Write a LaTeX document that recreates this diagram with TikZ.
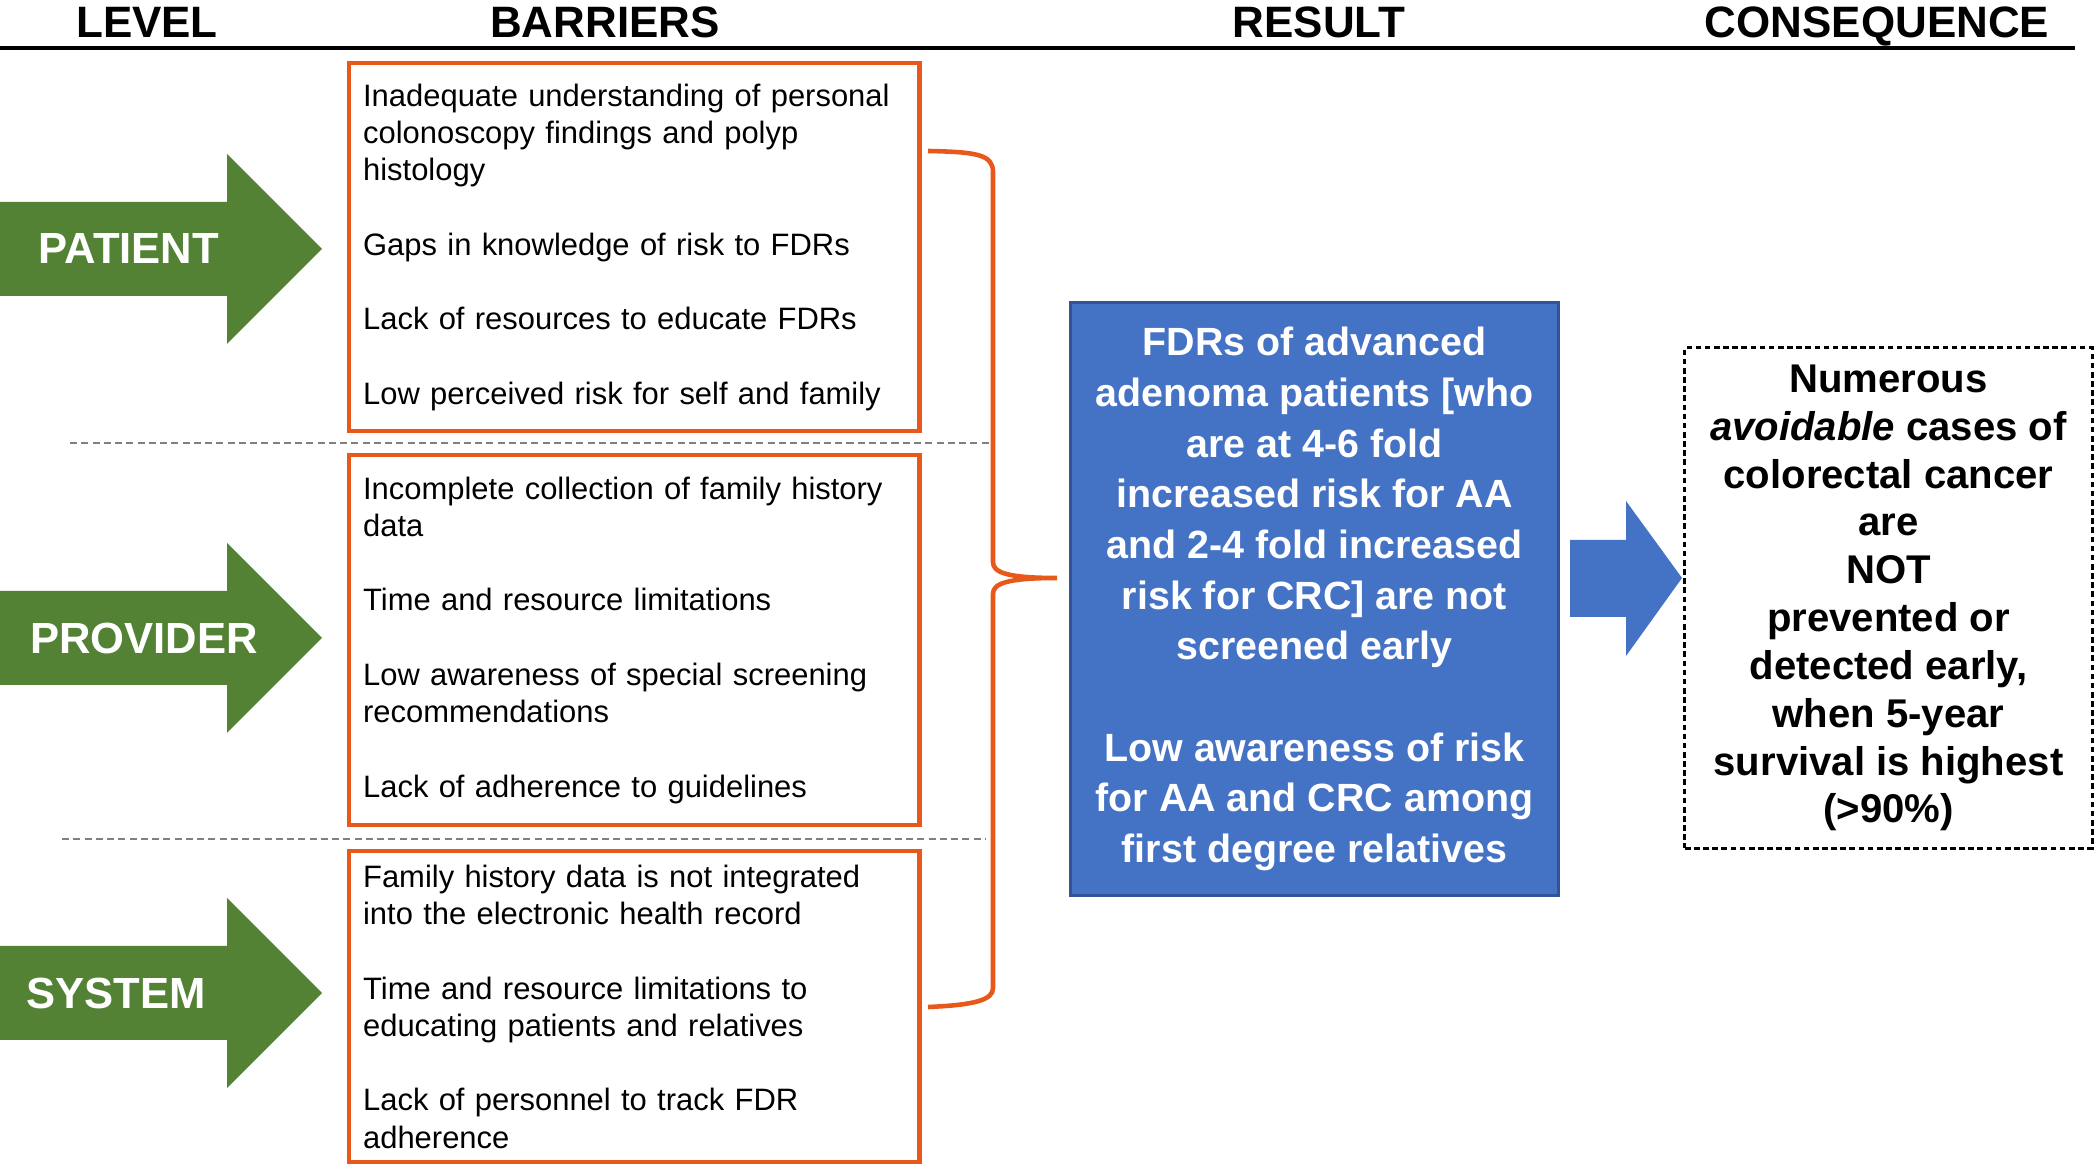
\documentclass[tikz,border=0pt]{standalone}
\usepackage{fontspec}
\setmainfont{Liberation Sans}
\usetikzlibrary{positioning}
\definecolor{lvlgreen}{HTML}{548235}
\definecolor{resblue}{HTML}{4472C4}
\definecolor{resedge}{HTML}{2F5597}
\definecolor{barorange}{HTML}{E8581A}

\begin{document}
\begin{tikzpicture}[x=0.01cm, y=-0.01cm,
  head/.style = {anchor=base, inner sep=0pt, font=\fontsize{12.5}{15}\selectfont\bfseries},
  barrier/.style = {draw=barorange, line width=1.2pt, anchor=north west, align=left, inner xsep=0.14cm, text width=5.42cm, font=\fontsize{8.8}{10.6}\selectfont},
  level/.style = {text=white, inner sep=0pt, font=\fontsize{12.4}{14}\selectfont\bfseries},
  result/.style = {fill=resblue, draw=resedge, line width=0.8pt, align=center, text=white, minimum width=4.87cm, minimum height=5.92cm, font=\fontsize{11.2}{14.4}\selectfont\bfseries},
  conseq/.style = {draw, line width=0.8pt, dash pattern=on 1.6pt off 1pt, align=center, minimum width=4.07cm, minimum height=5cm, font=\fontsize{11.4}{13.6}\selectfont\bfseries},
  sep/.style = {gray, line width=0.6pt, dash pattern=on 2pt off 1.2pt},
  bracket/.style = {draw=barorange, line width=1.3pt}]
\useasboundingbox (0,0) rectangle (2100,1165);

\node[head] (hlevel) at (147,38) {LEVEL};
\node[head] (hbarriers) at (605,38) {BARRIERS};
\node[head] (hresult) at (1319,38) {RESULT};
\node[head] (hconseq) at (1877,38) {CONSEQUENCE};
\draw[line width=0.9pt] (0,48) -- (2075,48);

\foreach \name/\txt/\cy/\tx in {patient/PATIENT/249/129, provider/PROVIDER/638/144, system/SYSTEM/993/116} {
  \fill[lvlgreen] (0,\cy-47) -- (227,\cy-47) -- (227,\cy-95) -- (322,\cy) -- (227,\cy+95) -- (227,\cy+47) -- (0,\cy+47) -- cycle;
  \node[level] (\name) at (\tx,\cy) {\txt};
}

\node[barrier, minimum height=3.68cm] (patientbox) at (347,61) {Inadequate understanding of personal\\ colonoscopy findings and polyp\\ histology\\[10.6pt]
Gaps in knowledge of risk to FDRs\\[10.6pt]
Lack of resources to educate FDRs\\[10.6pt]
Low perceived risk for self and family};
\node[barrier, minimum height=3.70cm] (providerbox) at (347,453) {Incomplete collection of family history\\ data\\[10.6pt]
Time and resource limitations\\[10.6pt]
Low awareness of special screening\\ recommendations\\[10.6pt]
Lack of adherence to guidelines};
\node[barrier, minimum height=3.11cm] (systembox) at (347,849) {Family history data is not integrated\\ into the electronic health record\\[10.6pt]
Time and resource limitations to\\ educating patients and relatives\\[10.6pt]
Lack of personnel to track FDR\\ adherence};

\draw[sep] (70,443) -- (990,443);
\draw[sep] (62,839) -- (985,839);

\coordinate (tip) at (1057,578);
\draw[bracket] (928,151) .. controls (975,152) and (993,154) .. (993,172) -- (993,562)
  .. controls (993,572) and (1005,578) .. (tip)
  .. controls (1005,578) and (993,584) .. (993,594) -- (993,988)
  .. controls (993,1000) and (975,1005) .. (928,1007);

\node[result] (result) at (1314.5,599) {FDRs of advanced\\ adenoma patients [who\\ are at 4-6 fold\\ increased risk for AA\\ and 2-4 fold increased\\ risk for CRC] are not\\ screened early\\[14.4pt]
Low awareness of risk\\ for AA and CRC among\\ first degree relatives};

\fill[resblue] (1570,540) -- (1626,540) -- (1626,501) -- (1682,578) -- (1626,656) -- (1626,617) -- (1570,617) -- cycle;

\node[conseq] (conseq) at (1888.5,598) {Numerous\\ \textit{avoidable} cases of\\ colorectal cancer\\ are\\ NOT\\ prevented or\\ detected early,\\ when 5-year\\ survival is highest\\ (>90\%)};

\end{tikzpicture}
\end{document}
